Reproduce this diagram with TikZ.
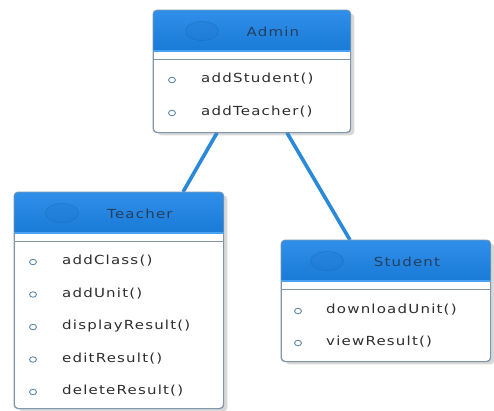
\documentclass[tikz,border=0pt]{standalone}
\usepackage{fontspec}
\usepackage{graphicx}
\setmainfont{DejaVu Sans}
\newfontfamily\umlfont[LetterSpace=8]{DejaVu Sans}
\usetikzlibrary{calc,shadows,shapes.geometric}
\definecolor{hdtop}{HTML}{2F8FE9}
\definecolor{hdbot}{HTML}{1A7BD8}
\definecolor{hdlight}{HTML}{4AA3F2}
\definecolor{boxline}{HTML}{8096AB}
\definecolor{conncol}{HTML}{2B8AD8}
\definecolor{titlecol}{HTML}{243F5E}
\definecolor{itemcol}{HTML}{2E2E2E}
\definecolor{bulletcol}{HTML}{5F87A8}
\newcommand{\sx}[1]{\scalebox{1.2}[1]{#1}}
\tikzset{
  classbox/.style={rectangle, rounded corners=4pt, fill=white, draw=boxline, line width=0.8pt, inner sep=0pt,
    anchor=north west, drop shadow={shadow xshift=4pt, shadow yshift=-3pt, opacity=0.3, fill=gray}},
  classitem/.style={anchor=west, inner sep=0pt, text=itemcol, font=\umlfont\fontsize{12.5}{14}\selectfont},
  classtitle/.style={inner sep=0pt, text=titlecol, font=\umlfont\fontsize{12.5}{14}\selectfont},
  bullet/.style={ellipse, draw=bulletcol, line width=0.9pt, minimum width=7pt, minimum height=5.5pt, inner sep=0pt},
  icon/.style={ellipse, draw=hdbot!75!black, line width=0.6pt, fill=hdbot!92!black, draw opacity=0.35, fill opacity=0.2, minimum width=33pt, minimum height=19pt, inner sep=0pt},
  divider/.style={draw=boxline, line width=0.7pt},
  conn/.style={draw=conncol, line width=3.6pt}
}
\newcommand{\umlheader}[1]{%
  \begin{scope}
    \clip[rounded corners=4pt] (#1.north west) rectangle (#1.south east);
    \shade[top color=hdtop, bottom color=hdbot] (#1.north west) rectangle ([yshift=-40pt]#1.north east);
    \fill[hdlight] ([yshift=-40pt]#1.north west) rectangle ([yshift=-42pt]#1.north east);
  \end{scope}
  \draw[divider] ([yshift=-49pt]#1.north west) -- ([yshift=-49pt]#1.north east);
  \draw[draw=boxline, line width=0.8pt, rounded corners=4pt] (#1.north west) rectangle (#1.south east);
}
\begin{document}
\begin{tikzpicture}[x=1pt,y=-1pt]
\useasboundingbox[fill=white] (0,0) rectangle (494,410);

\node[classbox, minimum width=197pt, minimum height=122pt] (admin) at (153,10) {};
\node[classbox, minimum width=209pt, minimum height=216pt] (teacher) at (14,192) {};
\node[classbox, minimum width=209pt, minimum height=121pt] (student) at (281,240) {};

\draw[conn] ([xshift=64pt]admin.south west) -- ([xshift=169pt]teacher.north west);
\draw[conn] ([xshift=134pt]admin.south west) -- ([xshift=69pt]student.north west);

\umlheader{admin}
\umlheader{teacher}
\umlheader{student}

% Admin
\node[icon] (adminicon) at ($(admin.north west)+(49,21)$) {};
\node[classtitle] (admintitle) at ($(admin.north)+(21,22)$) {\sx{Admin}};
\node[bullet] (ab1) at ($(admin.north west)+(19,70)$) {};
\node[classitem] (ai1) at ($(admin.north west)+(48,69)$) {\sx{addStudent()}};
\node[bullet] (ab2) at ($(admin.north west)+(19,103)$) {};
\node[classitem] (ai2) at ($(admin.north west)+(48,102)$) {\sx{addTeacher()}};

% Teacher
\node[icon] (teachericon) at ($(teacher.north west)+(48,21)$) {};
\node[classtitle] (teachertitle) at ($(teacher.north)+(21,22)$) {\sx{Teacher}};
\node[bullet] (tb1) at ($(teacher.north west)+(19,70)$) {};
\node[classitem] (ti1) at ($(teacher.north west)+(48,69)$) {\sx{addClass()}};
\node[bullet] (tb2) at ($(teacher.north west)+(19,102.5)$) {};
\node[classitem] (ti2) at ($(teacher.north west)+(48,101.5)$) {\sx{addUnit()}};
\node[bullet] (tb3) at ($(teacher.north west)+(19,135)$) {};
\node[classitem] (ti3) at ($(teacher.north west)+(48,134)$) {\sx{displayResult()}};
\node[bullet] (tb4) at ($(teacher.north west)+(19,167.5)$) {};
\node[classitem] (ti4) at ($(teacher.north west)+(48,166.5)$) {\sx{editResult()}};
\node[bullet] (tb5) at ($(teacher.north west)+(19,200)$) {};
\node[classitem] (ti5) at ($(teacher.north west)+(48,199)$) {\sx{deleteResult()}};

% Student
\node[icon] (studenticon) at ($(student.north west)+(46,21)$) {};
\node[classtitle] (studenttitle) at ($(student.north)+(21,22)$) {\sx{Student}};
\node[bullet] (sb1) at ($(student.north west)+(17,71)$) {};
\node[classitem] (si1) at ($(student.north west)+(45,70)$) {\sx{downloadUnit()}};
\node[bullet] (sb2) at ($(student.north west)+(17,103)$) {};
\node[classitem] (si2) at ($(student.north west)+(45,102)$) {\sx{viewResult()}};
\end{tikzpicture}
\end{document}
